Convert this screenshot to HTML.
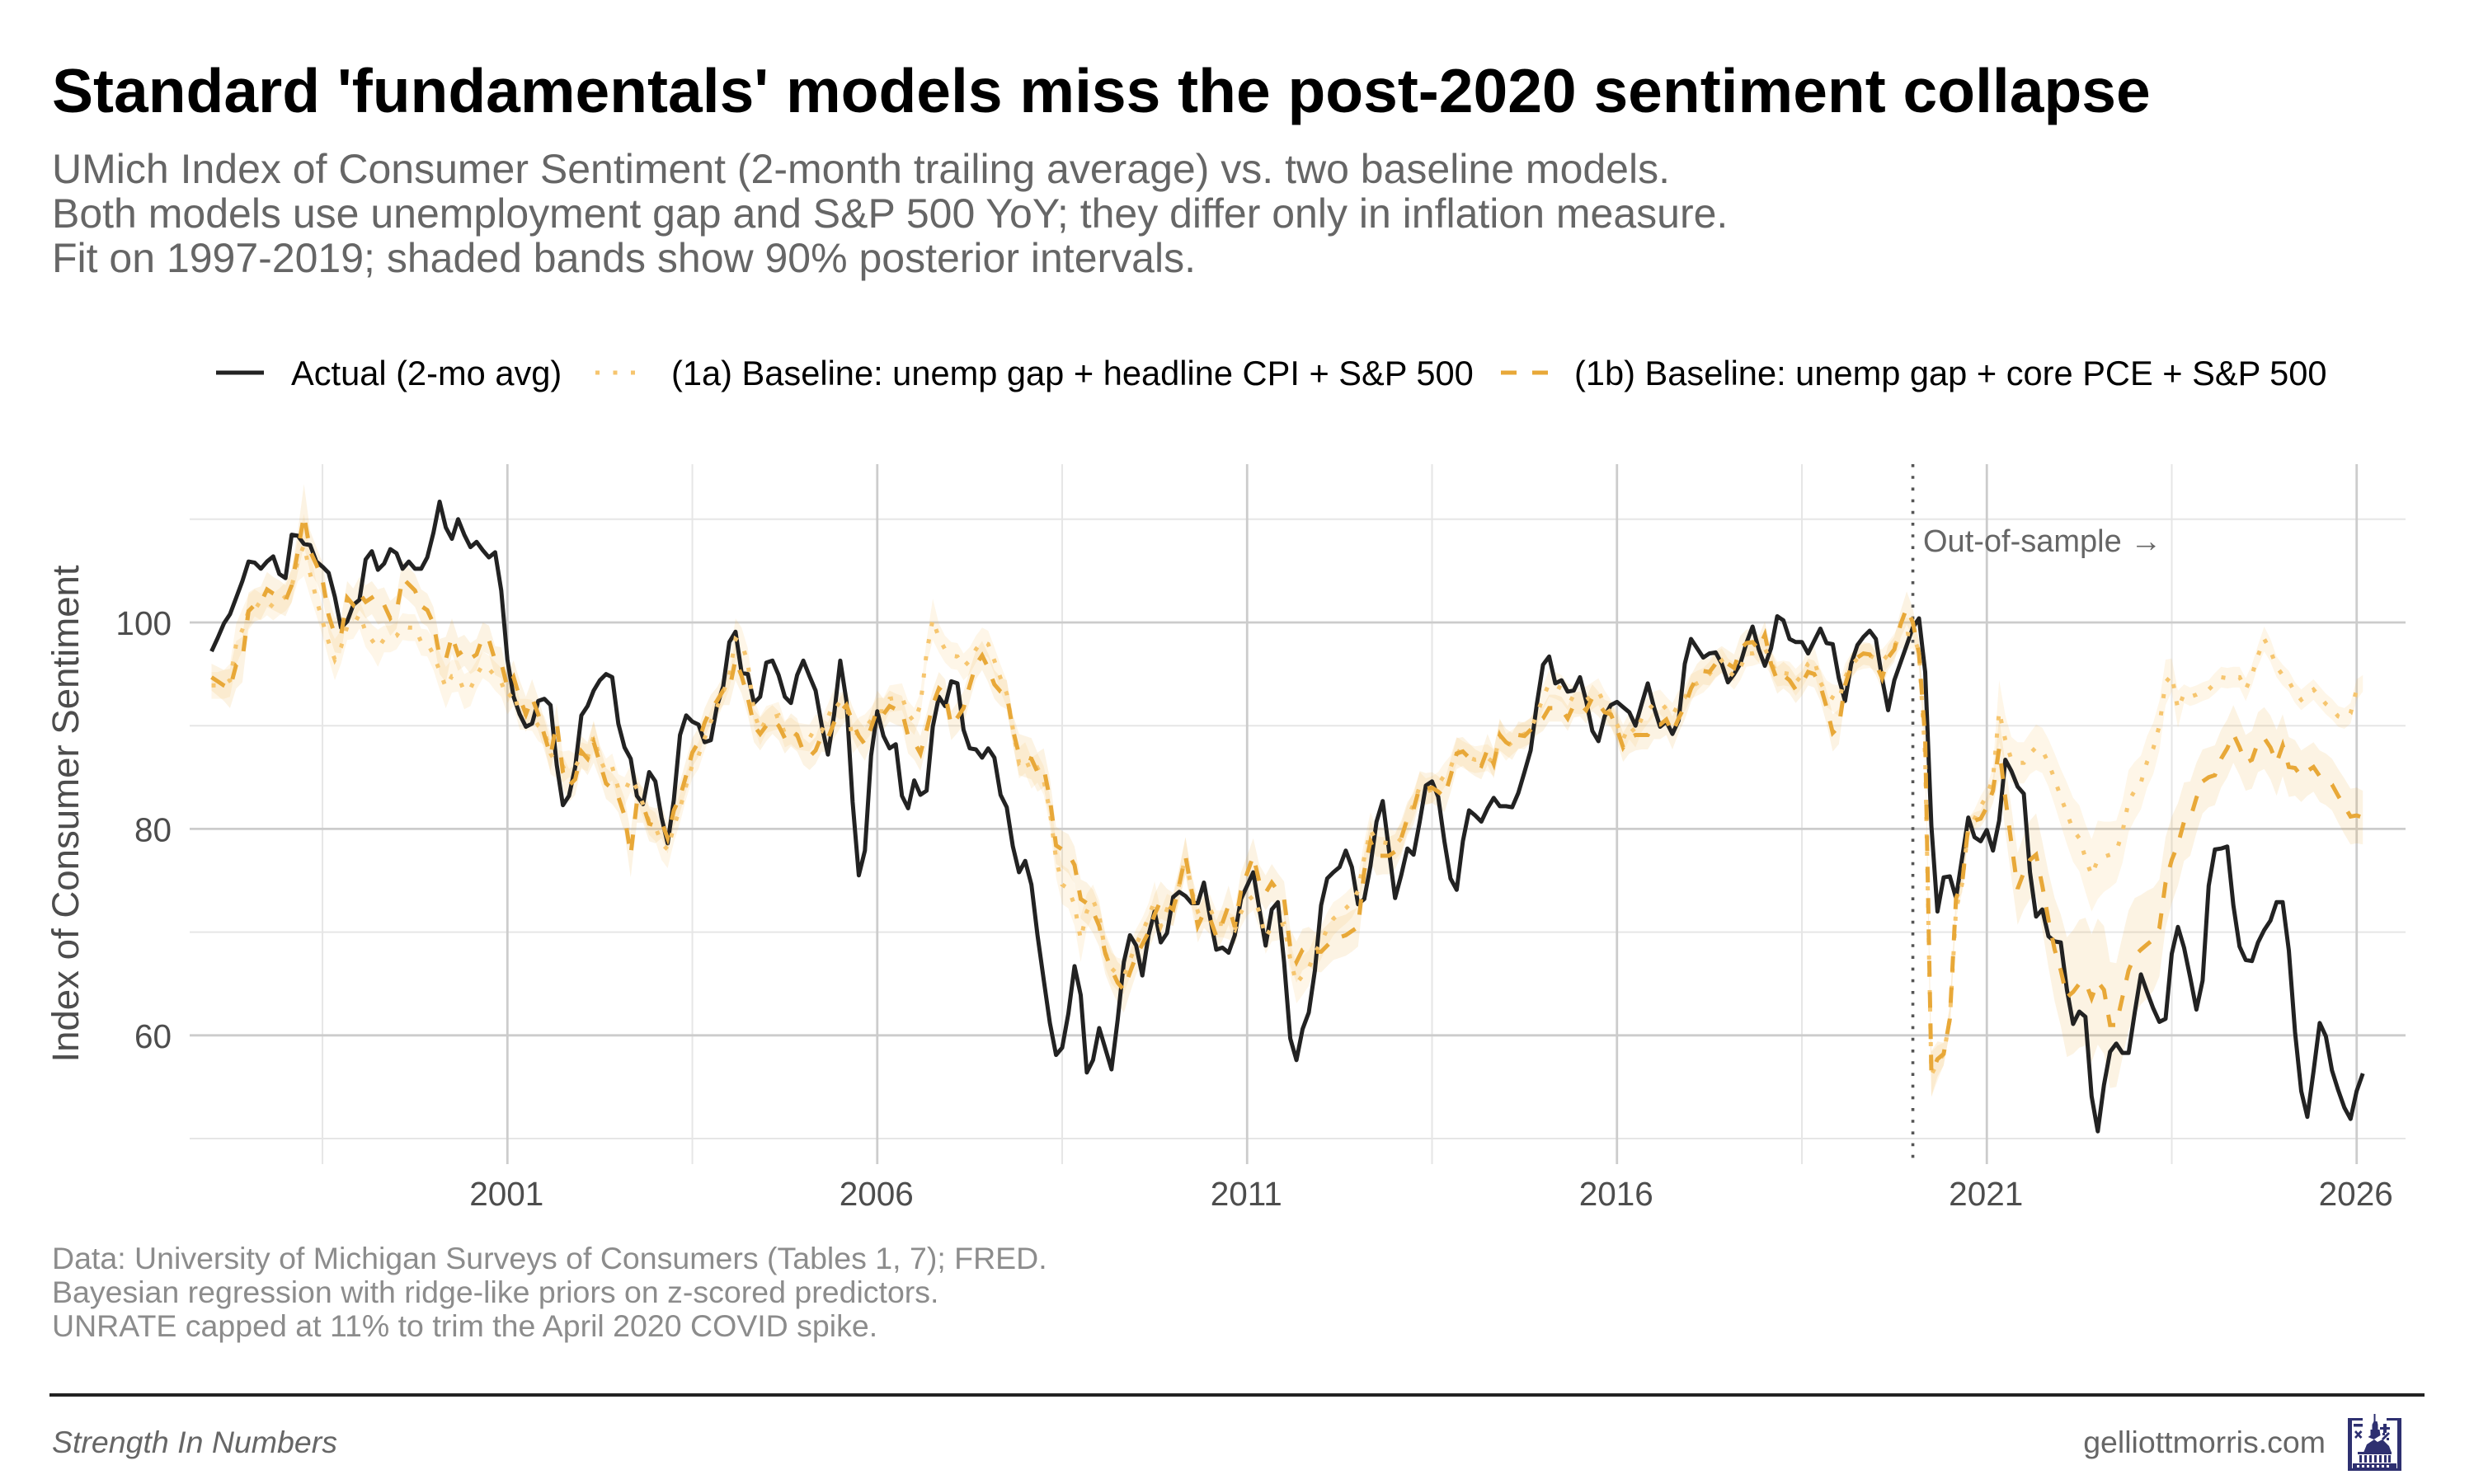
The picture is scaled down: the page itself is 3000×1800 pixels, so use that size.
<!DOCTYPE html>
<html lang="en">
<head>
<meta charset="utf-8">
<title>Standard 'fundamentals' models miss the post-2020 sentiment collapse</title>
<style>
html,body{margin:0;padding:0;background:#fff;width:3000px;height:1800px;overflow:hidden}
svg{display:block;font-family:"Liberation Sans",Arial,sans-serif}
</style>
</head>
<body>
<svg id="chart" xmlns="http://www.w3.org/2000/svg" width="3000" height="1800" viewBox="0 0 3000 1800">
  <rect width="3000" height="1800" fill="#ffffff"/>
  <text x="63" y="136" font-size="75" font-weight="700" fill="#000000">Standard 'fundamentals' models miss the post-2020 sentiment collapse</text>
  <g font-size="50" fill="#666666">
    <text x="63" y="222">UMich Index of Consumer Sentiment (2-month trailing average) vs. two baseline models.</text>
    <text x="63" y="276">Both models use unemployment gap and S&amp;P 500 YoY; they differ only in inflation measure.</text>
    <text x="63" y="330">Fit on 1997-2019; shaded bands show 90% posterior intervals.</text>
  </g>
  <g font-size="41.6" fill="#000000">
    <g>
      <line x1="262" x2="320" y1="452" y2="452" stroke="#222222" stroke-width="5"/>
      <text x="353" y="467">Actual (2-mo avg)</text>
    </g>
    <g>
      <line x1="722" x2="771" y1="452" y2="452" stroke="#F6C56E" stroke-width="5" stroke-dasharray="5 16.5"/>
      <text x="814" y="467">(1a) Baseline: unemp gap + headline CPI + S&amp;P 500</text>
    </g>
    <g>
      <line x1="1820" x2="1882" y1="452" y2="452" stroke="#E8A838" stroke-width="5" stroke-dasharray="19 19"/>
      <text x="1909" y="467">(1b) Baseline: unemp gap + core PCE + S&amp;P 500</text>
    </g>
  </g>
  <g id="grid"></g>
  <g id="bands"></g>
  <g id="series"></g>
  <g id="xlabels" font-size="40.5" fill="#4d4d4d" text-anchor="middle"></g>
  <g id="ylabels" font-size="40.5" fill="#4d4d4d" text-anchor="end"></g>
  <text transform="translate(95,987) rotate(-90)" font-size="45.6" fill="#4d4d4d" text-anchor="middle">Index of Consumer Sentiment</text>
  <text x="2332" y="669" font-size="38" fill="#666666">Out-of-sample →</text>
  <g font-size="37.5" fill="#8c8c8c">
    <text x="63" y="1539">Data: University of Michigan Surveys of Consumers (Tables 1, 7); FRED.</text>
    <text x="63" y="1580">Bayesian regression with ridge-like priors on z-scored predictors.</text>
    <text x="63" y="1621">UNRATE capped at 11% to trim the April 2020 COVID spike.</text>
  </g>
  <rect x="60" y="1690" width="2880" height="4" fill="#222222"/>
  <text x="63" y="1762" font-size="37.5" font-style="italic" fill="#666666">Strength In Numbers</text>
  <text x="2820" y="1762" font-size="37.5" fill="#666666" text-anchor="end">gelliottmorris.com</text>
  <g fill="#2E3070">
    <path d="M2865 1720h-18v64h65v-64h-18v3h13v58h-55v-58h13z"/>
    <rect x="2854" y="1727" width="11" height="3.5"/>
    <path d="M2890 1727h4v4h4v3h-4v4h-4v-4h-4v-3h4z"/>
    <path d="M2855 1737l2-2 2.500 3 3-3 2 2-3 3 3 3-2 2-3-3-2.500 3-2-2 3-3z"/>
    <path d="M2896 1737l2 2-8 8-2-2zM2889 1738h3v3h-3zM2894 1744h3v3h-3z"/>
    <path d="M2878.500 1715h2v9h2l1 4v6h2l1 7-8 5-7-3 3-2v-7h2v-6l2-4z"/>
    <path d="M2870 1752l9-6 4 3 6-3 8 8 3 8h-34z"/>
    <rect x="2859" y="1761" width="41" height="3" fill="#2E3070"/>
    <path d="M2861 1765h3v9h-3zM2867 1765h3v9h-3zM2873 1765h3v9h-3zM2879 1765h3v9h-3zM2885 1765h3v9h-3zM2891 1765h3v9h-3zM2896 1765h3v9h-3z"/>
    <path d="M2853 1775h53v6h-53z"/>
    <path d="M2858 1777h3v3h-3zM2864 1777h3v3h-3zM2870 1777h3v3h-3zM2876 1777h3v3h-3zM2882 1777h3v3h-3zM2888 1777h3v3h-3zM2894 1777h3v3h-3z" fill="#ffffff"/>
  </g>
</svg>
<script>
const startYear = 1997;
const xMajorTicks = [2001, 2006, 2011, 2016, 2021, 2026];
const xMinorTicks = [1998.5, 2003.5, 2008.5, 2013.5, 2018.5, 2023.5];
const yMajorTicks = [60, 80, 100];
const yMinorTicks = [50, 70, 90, 110];
const outOfSampleStart = 2020;

const actualSentiment = [
97.2,98.5,99.9,100.8,102.4,104.0,105.9,105.8,105.2,105.9,
106.4,104.7,104.3,108.5,108.4,107.6,107.5,105.9,105.4,104.8,
102.5,99.5,100.1,101.7,102.2,106.1,106.9,105.1,105.7,107.1,
106.7,105.2,105.9,105.2,105.2,106.3,108.7,111.7,109.2,108.1,
110,108.5,107.3,107.8,107,106.3,106.8,103.1,96.4,92.8,
91.1,89.9,90.2,92.4,92.6,92,86.2,82.3,83.2,86,
91,91.9,93.4,94.4,95,94.7,90.2,87.9,86.8,83.2,
82.4,85.5,84.6,81.1,78.6,82.8,89.1,91,90.4,90.1,
88.4,88.6,91.9,93.8,98.1,99.1,95.1,95,92.2,92.8,
96.1,96.3,94.9,92.8,92.2,94.9,96.3,94.8,93.4,90,
87.2,91.1,96.3,92.4,82.6,75.5,77.9,87.1,91.4,89,
87.8,88.2,83.2,82,84.7,83.3,83.7,89.9,92.8,91.9,
94.3,94.1,89.6,87.8,87.7,86.9,87.8,86.9,83.3,82.1,
78.3,75.8,76.9,74.6,69.7,65.4,61.2,58.1,58.8,62.1,
66.7,63.9,56.4,57.6,60.7,58.7,56.7,61.5,67.1,69.7,
68.7,65.8,69.7,72,69,69.9,73.4,73.9,73.5,72.8,
72.8,74.8,71.4,68.3,68.5,68,69.7,73.2,74.5,75.8,
72.2,68.7,72.2,72.9,67.1,59.7,57.6,60.6,62.2,66.3,
72.6,75.2,75.8,76.3,77.9,76.3,72.7,73.2,76.4,80.7,
82.7,78,73.3,75.5,78.1,77.5,80.7,84.2,84.6,83.1,
78.8,75.2,74.1,78.8,81.8,81.3,80.7,82,83,82.2,
82.2,82.1,83.5,85.5,87.6,92.1,95.9,96.7,94.1,94.4,
93.3,93.4,94.7,92.4,89.5,88.5,90.9,92,92.3,91.8,
91.3,90,92.1,94.1,91.8,89.9,90.4,89.2,90.5,96,
98.4,97.5,96.6,97,97.1,96,94.2,95,96,98,
99.6,97.4,95.8,97.5,100.6,100.2,98.4,98.1,98.1,97,
98.2,99.4,98,97.9,94.6,92.4,96,97.8,98.6,99.2,
98.4,94.6,91.5,94.4,96.1,97.8,99.5,100.4,95.2,80.3,
72,75.3,75.4,73.3,77.2,81.1,79.2,78.8,79.9,77.9,
80.8,86.7,85.6,84.1,83.4,75.8,71.5,72.2,69.6,69.1,
69,64.4,61.1,62.3,61.8,54.1,50.7,55.2,58.4,59.2,
58.3,58.3,62.2,65.9,64.2,62.6,61.3,61.6,67.9,70.5,
68.5,65.6,62.5,65.3,74.5,78,78.1,78.3,72.6,68.6,
67.3,67.2,69,70.2,71.1,72.9,72.9,68.2,60.3,54.6,
52.1,56.5,61.2,59.9,56.6,54.7,53,51.9,54.6,56.3];

const model1a = [
93.9,93.9,94,94.4,97.9,99.3,101.1,101.9,101.5,102,
101.5,102,102.5,103.5,106,107.5,104.7,102.3,100.1,98.1,
96.4,97.6,99.6,99.7,100.8,99.1,98.3,97.5,98.4,98.4,
98.7,99.6,99.5,99.5,98.1,98,96.9,95.3,93.7,94.8,
94.8,93.3,93.6,94.9,95.9,95.5,94.8,94.2,92.7,93.3,
91.1,91.1,91,90,89.5,87.3,86.3,86,86.3,86,
87.1,86.9,89,86.8,85.5,86,83.9,83.6,84.9,83.9,
82.4,80.7,80.2,78.6,78,80.2,82,84.2,86.2,87.1,
88.8,90.4,91.8,93.2,94.9,98.4,98,96.1,91.3,89.5,
90.6,90.8,91,89.2,89.5,89,88.9,88.8,89.8,89.5,
90.8,92.3,91.9,92.1,88.7,89.4,89.8,90.5,91.4,91.4,
92.6,92.7,92.8,91.1,90.4,92,97.1,100.3,98.5,97.4,
96.8,96.7,95.7,96.3,97.4,98.2,97.9,96.3,94.6,93.1,
89.7,86.4,86.9,85.4,85.9,84.7,81.7,77.1,74.6,74.2,
72.6,69.3,72,73.1,71.6,68,66.5,65.9,65.7,67.3,
68.8,70,71.4,73.1,70.6,72.2,72,74.6,77.4,74,
72,72.3,72.3,70.8,70.8,70.6,70.2,71.9,73,73.5,
71.9,69.5,70.5,70.6,70.8,67.4,65,65.8,66.5,68,
69,70.3,71.3,71.8,72.3,72.9,74,77.2,79.9,78.8,
78.7,78.6,78.4,79.1,81,82.4,84.1,83.6,83.8,84.3,
85.2,85.9,87.6,87.2,86.9,86.7,86.8,86.9,86.4,89.1,
87.9,88.4,88.9,89.2,89.5,91.1,92.7,94.1,93.9,93.6,
92.8,92.5,92.4,92.5,92.9,93.3,92.1,91.2,90.1,88.7,
90,89.3,90.7,91.5,92.1,92.3,91.6,91,92.1,92.7,
93.8,94.1,94.4,95,95.8,96.3,95.3,94.8,95.6,97,
97,97.2,97.5,96.1,95,95.1,95,94.2,94.9,96,
96.4,94.2,93.1,92.7,92.4,94.7,95.8,96.5,96.7,96.8,
96.5,96.2,96.9,97.7,98.8,98.9,98.8,97.2,87,56.2,
57.3,58.2,61.6,72.2,74.7,80.1,81,82.2,83.2,84.9,
91.4,88.6,86.7,86.4,86.4,87.3,87.9,87.6,86.4,84.8,
83.1,81.5,79.9,79.1,77.2,75.5,77,77.3,77.5,77.8,
79.7,82.7,83.7,84.5,86.5,87.8,90,94.2,94.9,91.6,
93.1,92.8,93,93.3,93.5,94.1,94.7,94.6,94.7,94.7,
93.5,94.9,96.8,98.4,97.3,95.7,94.9,94.3,93.2,92.5,
93,93.5,92.8,92.1,91.6,90.9,90.7,91.2,93.5,94.1];

const model1b = [
94.7,94.3,93.9,93.6,95.9,96.4,101.1,101.7,101.9,103.2,
102.8,102.5,102.1,103.6,106.9,110.4,106.9,105.6,104.1,100.7,
98.8,98.7,102.4,101.7,102.8,102,102.4,101.5,101.7,100.4,
101,104.3,103.7,103.1,101.6,101.2,99.9,96.7,96.4,98.7,
96.9,97.3,96.5,96.9,98.6,98.3,96.3,96.1,93.7,94.7,
92.7,91.1,92.7,91.1,89.1,87.1,90.3,85.5,84.2,84.8,
87.5,86.8,88.4,86.4,84.4,83.9,83.1,81.3,77.5,82.6,
82.3,80.5,80.3,80.7,79.1,81.8,83.1,85.2,87.4,88.4,
90.3,91.6,92.4,93.4,93.5,96.4,94.8,92.7,90,89.2,
90,90.6,90,88.8,89.6,89.1,87.5,87,87.6,89.1,
88.8,90.3,91.3,92,90.3,89,88.2,89.8,91.6,91.1,
91.9,91.6,91.4,89,88.4,87.3,89.6,92,93.6,93.1,
90,90.8,91.7,93.9,95.9,96.8,95.6,94,93.3,93,
89.6,87.2,87,86.8,85.5,85.9,82.9,78.4,78,77.6,
76.5,73.2,72.8,72,70.6,67.9,66.4,65.1,64.4,66.1,
67.7,68.8,70,71.7,73.1,72.6,72.2,74.6,77.4,74,
70.6,71.9,71.3,69.6,70.9,72.6,70.5,74,75.7,77.4,
74.8,73.8,74.8,74,73.2,68.5,67.1,68.3,68.6,68.1,
68.1,68.7,69.3,69.5,69.7,70.1,70.5,75.9,78.8,77.4,
77.4,77.4,77.8,79.1,81,81.9,84.1,83.9,84,83.6,
83.1,85.1,87.3,87.5,86.9,86.4,86.1,87.7,86.3,89.1,
88.4,88,89.1,89,89.6,90.3,90.7,91.7,91.7,91.6,
90.7,92,92.1,91.5,92.7,92.1,91.3,91.1,89.7,87.9,
88.8,89.1,89.1,89.1,90.1,90.1,90.6,89.3,90.7,91.9,
93.6,94.7,95.3,95.2,96,96.4,96,95.6,97.4,98,
98.1,97.4,98.8,96,94.4,94.9,94.4,93.5,94.1,95.2,
95,93.9,91.8,89.3,89.9,93.9,95.8,96.6,97,96.9,
96,94.6,96.6,97.4,99.8,101.4,100,97,88.7,56.3,
57.7,58.2,61.6,73.3,74.7,80.3,80.8,81,82.1,83.7,
87.8,83,78.6,74.2,75.8,77,77.5,74.5,71.2,68.3,
66.3,63.7,64.2,65,65.2,63.6,65.2,64.4,61,61,
63.7,66.3,67.7,68.3,68.8,69.3,70.4,74.8,77,78.5,
80.7,81,83,84.6,85,85.2,86.8,87.8,89.2,87.9,
86.4,86.7,88.4,88.8,87.9,86.4,88.1,86,85.9,85.1,
85.6,86,85.1,84.8,84.3,83.2,82.2,81.2,81.3,81.1];

const band1aHalfWidth = [
1.3,1.3,1.4,1.6,2,2,1.6,1.3,1.3,1.3,
1.3,1.3,1.4,1.6,2,3,2.2,1.6,1.4,1.6,
2,1.6,1.3,1.3,1.4,1.5,1.5,1.8,1.3,1.3,
1.3,1.3,1.3,1.3,1.3,1.3,1.5,1.8,2,1.6,
1.5,1.7,1.7,1.4,1.3,1.3,1.4,1.4,1.6,1.4,
1.5,1.5,1.5,1.5,1.4,2,1.4,1.5,1.3,1.3,
1.3,1.3,1.5,1.3,1.3,1.3,1.4,1.4,1.3,1.3,
1.3,1.3,1.4,1.6,1.8,1.5,1.4,1.3,1.3,1.3,
1.2,1.2,1.2,1.2,1.3,2,1.5,1.4,1.4,1.4,
1.3,1.3,1.3,1.3,1.3,1.3,1.3,1.3,1.3,1.3,
1.3,1.3,1.3,1.3,1.4,1.4,1.3,1.3,1.3,1.3,
1.3,1.3,1.3,1.3,1.3,1.2,1.2,2,1.4,1.3,
1.3,1.3,1.3,1.3,1.3,1.3,1.3,1.3,1.3,1.3,
1.3,1.5,1.5,1.5,1.4,1.4,1.5,1.8,1.9,1.9,
2,2.2,1.7,1.5,1.5,1.5,1.5,1.6,1.7,1.6,
1.5,1.4,1.4,1.8,1.5,1.5,1.4,1.4,1.8,1.5,
1.4,1.3,1.3,1.3,1.3,1.3,1.4,1.4,1.4,1.4,
1.5,1.6,1.4,1.4,1.4,1.5,1.9,1.9,1.7,1.6,
1.6,1.6,1.6,1.5,1.5,1.5,1.5,1.6,1.7,1.5,
1.4,1.4,1.4,1.4,1.3,1.3,1.4,1.3,1.3,1.2,
1.2,1.2,1.3,1.3,1.3,1.3,1.3,1.3,1.3,1.6,
1.3,1.2,1.2,1.2,1.2,1.2,1.2,1.3,1.3,1.3,
1.3,1.3,1.3,1.3,1.3,1.3,1.3,1.3,1.3,1.4,
1.3,1.4,1.3,1.3,1.2,1.2,1.2,1.2,1.3,1.3,
1.2,1.2,1.2,1.2,1.2,1.2,1.2,1.3,1.2,1.3,
1.2,1.2,1.6,1.2,1.2,1.2,1.2,1.3,1.2,1.3,
1.3,1.3,1.3,1.3,1.5,1.3,1.2,1.2,1.2,1.2,
1.2,1.2,1.2,1.2,1.3,1.6,1.3,1.2,1,2.2,
1.7,1.1,1.2,0.8,0.9,0.9,0.9,1,1,1,
3,2.4,2.2,2,2,2,2.2,2.2,2.3,2.5,
2.7,3,3.1,3.2,3.3,3.5,3.8,3.4,3.2,3,
3,3,2.8,2.6,2.5,2.5,2.4,2.2,1.6,1.8,
0.9,0.9,0.9,0.9,0.9,1,1,1,1,1,
1.1,1,1,1.2,1.1,1,1,1,1,1,
1,1,1,1,1,1,1,1,1,0.8];

const band1bHalfWidth = [
1.3,1.4,1.5,1.9,2.3,2.2,1.8,1.6,1.6,1.7,
1.6,1.6,1.5,1.6,2,3,2,1.7,1.7,1.7,
1.7,1.7,1.6,1.6,1.6,1.6,1.6,1.7,1.7,1.7,
1.6,1.7,1.6,1.6,1.6,1.6,1.6,1.7,2.2,1.7,
1.6,1.5,1.5,1.5,1.4,1.4,1.4,1.5,1.5,1.6,
1.7,1.7,1.8,1.6,1.5,1.5,1.8,1.6,1.6,1.5,
1.5,1.6,2,1.6,1.5,1.5,1.5,1.7,2.2,2,
1.7,1.7,1.7,1.6,1.5,1.6,1.5,1.5,1.4,1.4,
1.4,1.4,1.3,1.4,1.5,2,1.7,1.7,1.6,1.6,
1.5,1.4,1.4,1.5,1.6,1.6,1.3,1.3,1.3,1.6,
1.5,1.5,1.5,1.5,1.5,1.5,1.6,1.6,1.8,1.5,
1.5,1.5,1.5,1.7,1.7,1.7,1.6,1.5,1.6,1.4,
1.4,1.5,1.6,1.5,1.4,1.4,1.4,1.4,1.4,1.4,
1.5,2,2,2,1.9,1.9,2,1.8,1.8,1.9,
1.8,1.9,2,2.1,2,2,2,2,2.2,2,
1.8,1.7,1.7,2,1.8,1.6,1.6,1.6,1.8,1.7,
1.6,1.5,1.5,1.5,1.7,1.9,1.7,1.8,1.7,1.7,
1.7,1.7,1.8,1.7,1.7,1.8,2,2,1.9,1.9,
2,2,2,2,2,2,1.9,1.8,2,1.9,
1.8,1.8,1.7,1.7,1.6,1.5,1.5,1.5,1.5,1.5,
1.5,1.6,1.5,1.4,1.4,1.3,1.3,1.5,1.4,1.5,
1.3,1.3,1.3,1.3,1.2,1.2,1.2,1.3,1.3,1.2,
1.2,1.2,1.2,1.3,1.3,1.2,1.2,1.2,1.3,1.4,
1.5,1.5,1.4,1.4,1.4,1.4,1.5,1.6,1.4,1.3,
1.3,1.3,1.3,1.3,1.3,1.3,1.3,1.3,1.3,1.3,
1.3,1.3,1.3,1.3,1.3,1.3,1.3,1.3,1.2,1.3,
1.3,1.5,1.6,1.8,1.7,1.3,1.2,1.1,1.1,1.1,
1.1,1.1,1.2,1.2,1.3,1.6,1.4,1.1,1,2.2,
1.7,1.1,1.2,0.8,0.8,0.8,0.8,0.8,1,1.2,
3,3.3,3.4,3.5,3.6,3.8,4,4.3,4.6,5,
5.4,5.8,6,6.2,6.2,6.2,6.1,6.2,6.1,6,
5.9,5.8,5.6,5.3,5.2,5,4.7,4.4,4.2,4,
3.8,3.6,3.4,3.1,2.9,2.9,2.8,2.8,2.8,2.7,
2.7,2.8,2.9,3,3.1,3.2,3,2.9,2.7,2.5,
2.4,2.4,2.5,2.5,2.5,2.6,2.7,2.7,2.7,2.6];

const svgNS = 'http://www.w3.org/2000/svg';
const gridGroup = document.getElementById('grid');
const bandGroup = document.getElementById('bands');
const seriesGroup = document.getElementById('series');
const xLabelGroup = document.getElementById('xlabels');
const yLabelGroup = document.getElementById('ylabels');

function xScale(year) { return 615.3 + (year - 2001) * 89.697; }
function yScale(value) { return 755 + (100 - value) * 12.52; }
function monthYear(i) { return startYear + i / 12; }

function makeLine(x1, x2, y1, y2, color, width) {
  const el = document.createElementNS(svgNS, 'line');
  el.setAttribute('x1', x1);
  el.setAttribute('x2', x2);
  el.setAttribute('y1', y1);
  el.setAttribute('y2', y2);
  el.setAttribute('stroke', color);
  el.setAttribute('stroke-width', width);
  return el;
}

yMinorTicks.forEach(function (v) {
  const el = makeLine(230, 2917, yScale(v), yScale(v), '#e6e6e6', 2);
  
  
  gridGroup.appendChild(el);
});
xMinorTicks.forEach(function (yr) {
  const el = makeLine(xScale(yr), xScale(yr), 563, 1412, '#e6e6e6', 2);
  
  
  gridGroup.appendChild(el);
});
yMajorTicks.forEach(function (v) {
  const el = makeLine(230, 2917, yScale(v), yScale(v), '#cccccc', 2.8);
  
  
  gridGroup.appendChild(el);
  const t = document.createElementNS(svgNS, 'text');
  t.setAttribute('x', 208);
  t.setAttribute('y', yScale(v) + 15);
  t.textContent = v;
  
  
  yLabelGroup.appendChild(t);
});
xMajorTicks.forEach(function (yr) {
  const el = makeLine(xScale(yr), xScale(yr), 563, 1412, '#cccccc', 2.8);
  
  
  gridGroup.appendChild(el);
  const t = document.createElementNS(svgNS, 'text');
  t.setAttribute('x', xScale(yr) - 1);
  t.setAttribute('y', 1462);
  t.textContent = yr;
  
  
  xLabelGroup.appendChild(t);
});

function linePath(values) {
  return values.map(function (v, i) {
    return (i ? 'L' : 'M') + xScale(monthYear(i)).toFixed(1) + ' ' + yScale(v).toFixed(1);
  }).join('');
}
function bandPath(values, halfWidths) {
  const upper = values.map(function (v, i) {
    return xScale(monthYear(i)).toFixed(1) + ' ' + yScale(v + halfWidths[i]).toFixed(1);
  });
  const lower = values.map(function (v, i) {
    return xScale(monthYear(i)).toFixed(1) + ' ' + yScale(v - halfWidths[i]).toFixed(1);
  }).reverse();
  return 'M' + upper.join('L') + 'L' + lower.join('L') + 'Z';
}

const band1a = document.createElementNS(svgNS, 'path');
band1a.setAttribute('d', bandPath(model1a, band1aHalfWidth));
band1a.setAttribute('fill', '#F5B942');
band1a.setAttribute('fill-opacity', '0.12');


bandGroup.appendChild(band1a);

const band1b = document.createElementNS(svgNS, 'path');
band1b.setAttribute('d', bandPath(model1b, band1bHalfWidth));
band1b.setAttribute('fill', '#E8A838');
band1b.setAttribute('fill-opacity', '0.14');


bandGroup.appendChild(band1b);

const vline = makeLine(xScale(outOfSampleStart), xScale(outOfSampleStart), 563, 1412, '#555555', 3.6);
vline.setAttribute('stroke-dasharray', '3.6 10.6');


seriesGroup.appendChild(vline);

const actualLine = document.createElementNS(svgNS, 'path');
actualLine.setAttribute('d', linePath(actualSentiment));
actualLine.setAttribute('fill', 'none');
actualLine.setAttribute('stroke', '#222222');
actualLine.setAttribute('stroke-width', '5');
actualLine.setAttribute('stroke-linejoin', 'round');


seriesGroup.appendChild(actualLine);

const line1a = document.createElementNS(svgNS, 'path');
line1a.setAttribute('d', linePath(model1a));
line1a.setAttribute('fill', 'none');
line1a.setAttribute('stroke', '#F6C56E');
line1a.setAttribute('stroke-width', '5');
line1a.setAttribute('stroke-dasharray', '5 16');


seriesGroup.appendChild(line1a);

const line1b = document.createElementNS(svgNS, 'path');
line1b.setAttribute('d', linePath(model1b));
line1b.setAttribute('fill', 'none');
line1b.setAttribute('stroke', '#E8A838');
line1b.setAttribute('stroke-width', '5');
line1b.setAttribute('stroke-dasharray', '19 19');


seriesGroup.appendChild(line1b);
</script>
</body>
</html>
